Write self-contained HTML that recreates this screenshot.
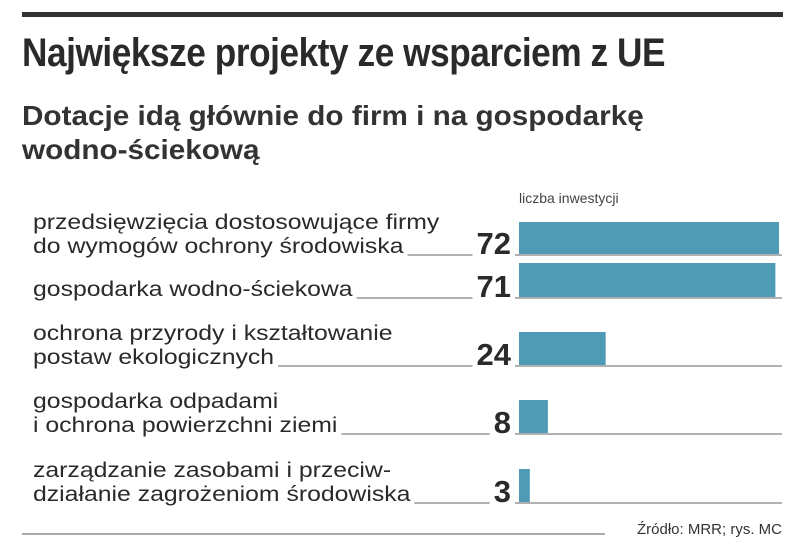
<!DOCTYPE html>
<html><head><meta charset="utf-8">
<style>
body{margin:0;background:#fff;width:805px;height:555px;overflow:hidden;font-family:"Liberation Sans",sans-serif;color:#2a2a2a}
.rule{position:absolute;left:22px;top:12px;width:761px;height:5px;background:#333}
.title{position:absolute;left:22px;top:31px;font-weight:bold;font-size:40px;letter-spacing:-0.5px;white-space:nowrap;transform:scaleX(0.88);transform-origin:0 0}
.sub{position:absolute;left:22px;top:99px;font-weight:bold;font-size:28px;line-height:34px;color:#333;white-space:nowrap;transform:scaleX(1.06);transform-origin:0 0}
</style></head><body>
<div class="rule"></div>
<div class="title">Największe projekty ze wsparciem z UE</div>
<div class="sub">Dotacje idą głównie do firm i na gospodarkę<br>wodno-ściekową</div>
<svg id="chart" width="805" height="555" style="position:absolute;left:0;top:0">
<text x="519" y="203" font-size="14" fill="#444" font-family="Liberation Sans, sans-serif">liczba inwestycji</text>
<line x1="22" y1="534" x2="605" y2="534" stroke="#aaa" stroke-width="2"/>
<text x="782" y="534" font-size="15" fill="#333" text-anchor="end" font-family="Liberation Sans, sans-serif">Źródło: MRR;  rys. MC</text>
</svg>
<script>
const categories=[["przedsięwzięcia dostosowujące firmy","do wymogów ochrony środowiska"],["gospodarka wodno-ściekowa"],["ochrona przyrody i kształtowanie","postaw ekologicznych"],["gospodarka odpadami","i ochrona powierzchni ziemi"],["zarządzanie zasobami i przeciw-","działanie zagrożeniom środowiska"]];
const values=[72,71,24,8,3];
const baselines=[254,297,365,433,502];
const svg=document.getElementById('chart');
const NS='http://www.w3.org/2000/svg';
const x0=519,scale=260/72;
const xs=v=>v*scale;
function mk(t,a){const e=document.createElementNS(NS,t);for(const k in a)e.setAttribute(k,a[k]);svg.appendChild(e);return e;}
categories.forEach((lines,i)=>{
  const b=baselines[i];
  const h=values[i]>=50?(i===0?32:34):33;
  const bar=mk('rect',{x:x0,y:b-h,width:xs(values[i]),height:h,fill:'#4f9bb5'});
  
  
  const g=mk('line',{x1:x0-4,y1:b+1,x2:782,y2:b+1,stroke:'#999','stroke-width':1.5});
  
  
  let lastW=0;
  lines.forEach((ln,j)=>{
    const t=mk('text',{x:33,y:b-1-(lines.length-1-j)*24,'font-size':21,fill:'#2a2a2a','font-family':'Liberation Sans, sans-serif'});
    t.textContent=ln;
    
    
    const w=t.getComputedTextLength()*1.18;
    t.setAttribute('textLength',w);
    t.setAttribute('lengthAdjust','spacingAndGlyphs');
    if(j===lines.length-1)lastW=w;
  });
  const v=mk('text',{x:511,y:b,'font-size':31,'font-weight':'bold',fill:'#2a2a2a','text-anchor':'end','font-family':'Liberation Sans, sans-serif'});
  v.textContent=values[i];
  
  
  const vw=v.getComputedTextLength();
  const l=mk('line',{x1:33+lastW+4,y1:b+1,x2:511-vw-4,y2:b+1,stroke:'#999','stroke-width':1.5});
  
  
});
</script>
</body></html>
